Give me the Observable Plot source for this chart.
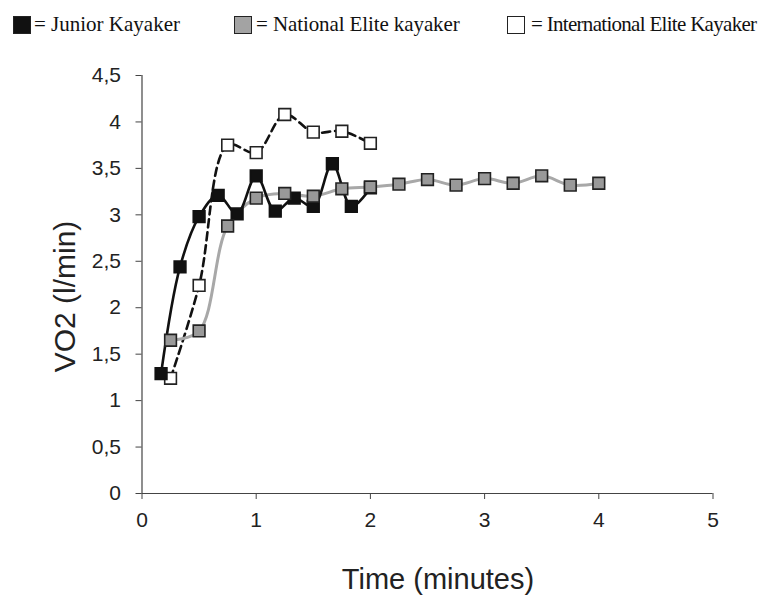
<!DOCTYPE html>
<html>
<head>
<meta charset="utf-8">
<script src="https://cdn.jsdelivr.net/npm/d3@7"></script>
<script src="https://cdn.jsdelivr.net/npm/@observablehq/plot@0.6"></script>
<style>
  body { margin: 0; background: #fff; }
  #legend { position: relative; width: 774px; height: 50px; font-family: "Liberation Serif", "Times New Roman", serif; font-size: 21px; color: #111; }
  .sw { position: absolute; top: 16px; width: 16px; height: 16px; border: 1.5px solid #222; }
  .lt { position: absolute; top: 13px; white-space: nowrap; line-height: 22px; }
</style>
</head>
<body>
<div id="legend"></div>
<div id="chart"></div>
<script>
const legendLabels = ["= Junior Kayaker", "= National Elite kayaker", "= International Elite Kayaker"];
const legendFills = ["#111111", "#a3a3a3", "#ffffff"];

const juniorTime = [0.167, 0.333, 0.5, 0.667, 0.833, 1.0, 1.167, 1.333, 1.5, 1.667, 1.833, 2.0];
const juniorVO2  = [1.29, 2.44, 2.98, 3.21, 3.01, 3.42, 3.04, 3.18, 3.09, 3.55, 3.09, 3.29];

const nationalTime = [0.25, 0.5, 0.75, 1.0, 1.25, 1.5, 1.75, 2.0, 2.25, 2.5, 2.75, 3.0, 3.25, 3.5, 3.75, 4.0];
const nationalVO2  = [1.65, 1.75, 2.88, 3.18, 3.23, 3.20, 3.28, 3.30, 3.33, 3.38, 3.32, 3.39, 3.34, 3.42, 3.32, 3.34];

const internationalTime = [0.25, 0.5, 0.75, 1.0, 1.25, 1.5, 1.75, 2.0];
const internationalVO2  = [1.24, 2.24, 3.75, 3.67, 4.08, 3.89, 3.90, 3.77];

const xTicks = [0, 1, 2, 3, 4, 5];
const yTicks = [0, 0.5, 1, 1.5, 2, 2.5, 3, 3.5, 4, 4.5];

// legend (HTML, above the SVG)
const legendPos = [[13, 34, 0], [234, 256, -0.1], [507, 531, -0.7]];
const legend = document.getElementById("legend");
legendLabels.forEach((lab, i) => {
  const sw = document.createElement("div");
  sw.className = "sw";
  sw.style.left = legendPos[i][0] + "px";
  sw.style.background = legendFills[i];
  legend.appendChild(sw);
  const t = document.createElement("div");
  t.className = "lt";
  t.style.left = legendPos[i][1] + "px";
  t.style.letterSpacing = legendPos[i][2] + "px";
  t.textContent = lab;
  legend.appendChild(t);
});

const junior = juniorTime.map((t, i) => ({t, v: juniorVO2[i]}));
const national = nationalTime.map((t, i) => ({t, v: nationalVO2[i]}));
const international = internationalTime.map((t, i) => ({t, v: internationalVO2[i]}));

const dotR = 6.6;
const chart = Plot.plot({
  width: 774,
  height: 547,
  marginTop: 25,
  marginBottom: 104,
  marginLeft: 141.5,
  marginRight: 61.5,
  style: { fontFamily: "'Liberation Sans', Arial, sans-serif", fontSize: "21px", color: "#222", background: "#fff" },
  x: { domain: [0, 5] },
  y: { domain: [0, 4.5] },
  marks: [
    Plot.ruleX([0], { stroke: "#444", strokeWidth: 1.2 }),
    Plot.ruleY([0], { stroke: "#444", strokeWidth: 1.2 }),
    Plot.axisX({ ticks: xTicks, tickSize: 6, tickPadding: 13, fontSize: 21, label: null, stroke: "#444",
                 tickFormat: d => String(d) }),
    Plot.axisY({ ticks: yTicks, tickSize: 6, tickPadding: 15, fontSize: 21, label: null, stroke: "#444",
                 tickFormat: d => String(d).replace(".", ",") }),
    Plot.text(["VO2 (l/min)"], { frameAnchor: "left", textAnchor: "middle", lineAnchor: "middle", rotate: -90, dx: -76.5, dy: 12, fontSize: 30, fill: "#222" }),
    Plot.text(["Time (minutes)"], { frameAnchor: "bottom", textAnchor: "middle", lineAnchor: "middle", dx: 10.5, dy: 86, fontSize: 29, fill: "#222" }),
    Plot.line(international, { x: "t", y: "v", stroke: "#111", strokeWidth: 2.6, strokeDasharray: "8,5", curve: "catmull-rom" }),
    Plot.line(national, { x: "t", y: "v", stroke: "#a8a8a8", strokeWidth: 3, curve: "catmull-rom" }),
    Plot.line(junior, { x: "t", y: "v", stroke: "#111", strokeWidth: 2.6, curve: "catmull-rom" }),
    Plot.dot(international, { x: "t", y: "v", symbol: "square", r: dotR, fill: "#fff", stroke: "#222", strokeWidth: 1.6 }),
    Plot.dot(junior, { x: "t", y: "v", symbol: "square", r: dotR, fill: "#111", stroke: "#111", strokeWidth: 1.6 }),
    Plot.dot(national, { x: "t", y: "v", symbol: "square", r: dotR, fill: "#999", stroke: "#222", strokeWidth: 1.6 })
  ]
});
document.getElementById("chart").appendChild(chart);
</script>
</body>
</html>
